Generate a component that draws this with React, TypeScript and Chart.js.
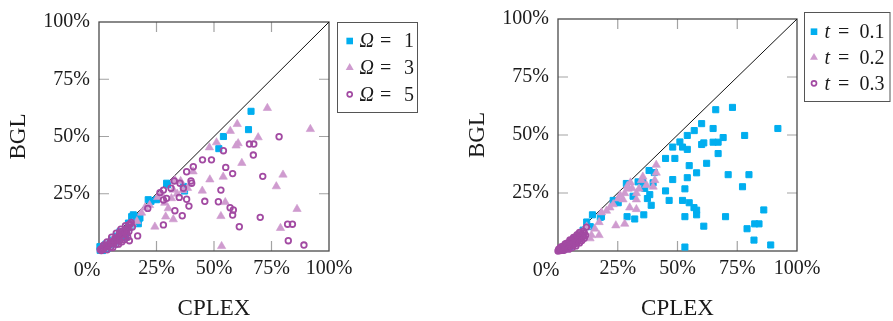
import React, { useEffect, useRef } from 'react';
import { Chart, registerables } from 'chart.js';

Chart.register(...registerables);

// ---------- DATA ----------
const tickValues = [0, 25, 50, 75, 100];
const tickLabels = ['0%', '25%', '50%', '75%', '100%'];
const xTitle = 'CPLEX';
const yTitle = 'BGL';
const diagonal = [[0, 0], [100, 100]];

const leftSeriesNames = ['Ω = 1', 'Ω = 3', 'Ω = 5'];
const rightSeriesNames = ['t = 0.1', 't = 0.2', 't = 0.3'];

const omega1Points = [
  [66.1, 61.0], [65.0, 53.0], [54.1, 50.0], [52.1, 44.7], [37.2, 26.2], [36.7, 28.2],
  [29.8, 28.9], [29.4, 29.6], [25.0, 22.4], [22.6, 21.7], [21.4, 22.4], [17.1, 15.0],
  [14.9, 15.8], [17.8, 14.4], [17.1, 11.9], [16.4, 12.2], [14.2, 15.0], [12.8, 12.2],
  [12.0, 9.2], [9.1, 8.4], [7.5, 6.5], [5.5, 4.8], [4.1, 2.6], [3.0, 3.0], [2.0, 1.5],
  [1.0, 1.0], [0.4, 1.9], [0.5, 0.3], [1.5, 0.2], [3.5, 1.0], [6.5, 3.0], [8.0, 4.5],
  [10.5, 7.0], [11.5, 6.0], [13.5, 10.5],
];
const omega3Points = [
  [73.2, 62.4], [91.9, 53.2], [60.1, 55.4], [57.1, 52.4], [51.1, 47.4], [48.0, 45.2],
  [60.5, 47.0], [59.6, 46.0], [69.2, 49.6], [62.1, 38.4], [54.0, 32.4], [48.2, 31.2],
  [44.9, 26.3], [40.9, 34.7], [80.0, 33.3], [77.1, 28.2], [86.1, 18.3], [78.9, 10.0],
  [53.3, 2.1], [53.0, 15.2], [54.9, 21.3], [24.3, 10.6], [29.0, 15.0], [32.3, 13.8],
  [30.1, 18.6], [28.6, 21.0], [31.5, 23.0], [34.0, 25.0], [32.3, 26.7], [36.5, 26.5],
  [38.5, 27.5], [33.0, 31.0], [35.5, 30.5], [27.0, 25.0], [25.5, 23.5], [22.0, 20.0],
  [20.0, 19.0], [18.5, 16.7], [16.5, 13.0], [14.5, 12.0], [13.0, 11.0], [11.5, 9.0],
  [10.0, 8.0], [8.0, 6.5], [6.0, 5.0], [4.5, 3.5], [3.0, 2.5], [2.0, 1.2],
];
const omega5Points = [
  [78.3, 49.9], [65.4, 46.7], [67.3, 46.7], [54.1, 43.8], [67.1, 41.9], [45.0, 39.8],
  [48.9, 39.8], [55.1, 36.5], [58.1, 33.8], [71.2, 32.6], [53.0, 26.6], [51.9, 21.5],
  [46.0, 21.7], [57.0, 18.9], [58.4, 17.9], [58.1, 15.7], [70.1, 14.7], [61.0, 10.6],
  [82.0, 11.7], [84.1, 11.7], [82.3, 4.5], [89.1, 2.6], [41.0, 36.8], [40.3, 29.6],
  [40.0, 30.6], [38.1, 34.6], [36.7, 27.4], [35.2, 29.6], [32.7, 30.6], [31.3, 27.4],
  [28.0, 26.6], [26.5, 25.5], [29.4, 23.0], [28.0, 22.3], [34.9, 23.4], [38.1, 22.6],
  [39.1, 19.6], [33.0, 17.6], [36.2, 15.4], [28.0, 11.4], [21.2, 18.6], [16.8, 6.6],
  [13.2, 4.5], [14.0, 12.5], [13.0, 11.5], [12.5, 10.0], [11.5, 9.5], [11.0, 8.0],
  [10.0, 8.5], [9.5, 7.0], [8.5, 6.5], [8.0, 5.5], [7.0, 5.5], [6.5, 4.5], [6.0, 3.5],
  [5.0, 4.0], [4.5, 3.0], [4.0, 2.0], [3.0, 2.5], [2.5, 1.5], [2.0, 1.0], [1.5, 0.5],
  [1.0, 1.0], [10.5, 6.0], [12.0, 7.5], [9.0, 4.5], [7.5, 3.0], [11.0, 5.0],
  [3.5, 4.0], [5.5, 6.0], [7.5, 7.8], [9.5, 9.5], [11.5, 11.0], [13.5, 11.8],
  [2.0, 2.5], [6.0, 1.5], [8.5, 3.0], [10.0, 4.0], [12.5, 6.0], [12.0, 9.0],
  [13.0, 8.5], [14.5, 10.5], [9.0, 8.0], [7.0, 4.0], [5.0, 1.5], [3.5, 0.5],
  [1.0, 0.2], [0.5, 0.5],
];

const t01Points = [
  [73.0, 61.9], [66.0, 60.9], [92.0, 52.8], [60.1, 54.9], [57.0, 51.9], [64.9, 52.8],
  [54.1, 49.8], [69.1, 48.9], [78.1, 49.8], [51.0, 47.0], [52.1, 44.8], [54.1, 43.8],
  [48.0, 44.8], [60.1, 45.9], [61.0, 46.6], [64.9, 46.9], [67.0, 46.9], [67.0, 42.0],
  [45.0, 39.9], [48.9, 39.9], [62.2, 37.8], [54.9, 36.8], [58.0, 33.7], [54.1, 31.6],
  [48.0, 30.8], [71.2, 32.9], [79.9, 32.9], [77.2, 27.7], [53.1, 26.8], [45.0, 25.9],
  [46.5, 21.8], [52.1, 21.8], [54.9, 20.8], [56.9, 18.7], [58.0, 17.6], [58.0, 15.6],
  [53.1, 14.8], [70.1, 14.8], [86.1, 17.7], [79.1, 9.6], [82.3, 11.7], [84.1, 11.7],
  [61.0, 10.7], [82.0, 4.7], [89.0, 2.6], [53.1, 1.7], [38.1, 34.7], [40.3, 33.8],
  [39.8, 29.4], [38.4, 24.3], [39.0, 19.7], [35.9, 15.6], [32.1, 13.8], [28.9, 14.8],
  [35.3, 29.8], [36.3, 27.0], [37.4, 22.6], [23.1, 21.8], [25.2, 20.8], [28.6, 29.1],
  [33.5, 29.8], [31.4, 23.6], [18.2, 14.8], [14.4, 15.6], [17.7, 14.5], [12.0, 12.5],
  [10.5, 9.0], [9.0, 6.0], [7.0, 3.5], [5.0, 2.0], [3.0, 1.0], [1.5, 0.5], [13.5, 10.5],
];
const t02Points = [
  [41.1, 37.1], [41.1, 33.7], [40.5, 30.5], [39.8, 27.7], [37.0, 28.4], [34.9, 30.5],
  [33.9, 26.8], [32.8, 24.9], [32.8, 22.2], [30.3, 29.5], [29.3, 26.8], [27.9, 24.9],
  [27.2, 22.2], [25.2, 22.6], [23.1, 20.1], [21.7, 18.7], [20.3, 17.3], [18.2, 16.6],
  [27.9, 11.7], [24.2, 11.0], [30.0, 18.7], [32.8, 18.0], [17.2, 12.4], [15.4, 9.6],
  [14.0, 6.8], [17.2, 6.8], [13.4, 5.4], [12.0, 10.5], [10.5, 8.5], [9.0, 7.0],
  [8.0, 5.5], [6.5, 4.5], [5.0, 3.5], [3.5, 2.5], [2.0, 1.5], [26.0, 24.0], [29.0, 28.0],
  [31.0, 27.0], [35.5, 32.0],
];
const t03Points = [
  [0.5, 0.3], [1.0, 0.8], [1.5, 0.5], [2.0, 1.5], [2.5, 1.0], [3.0, 2.0], [3.5, 1.5],
  [4.0, 2.8], [4.5, 2.0], [5.0, 3.5], [5.5, 2.8], [6.0, 4.2], [6.5, 3.5], [7.0, 5.0],
  [7.5, 4.0], [8.0, 5.8], [8.5, 4.8], [9.0, 6.5], [9.5, 5.5], [10.0, 7.2], [10.5, 6.2],
  [11.0, 7.8], [11.9, 10.3], [1.0, 0.2], [2.0, 0.4], [3.0, 1.0], [4.0, 1.2], [5.0, 2.2],
  [6.0, 2.5], [7.0, 3.0], [8.0, 3.5], [2.5, 2.2], [4.0, 3.5], [5.5, 4.5], [7.0, 6.0],
  [3.0, 3.0], [1.5, 1.8], [3.5, 3.2], [5.0, 4.8], [6.5, 5.8], [8.0, 7.0], [9.0, 8.0],
  [2.5, 0.3], [4.5, 0.8], [6.0, 1.5], [7.5, 2.2], [9.0, 3.5], [10.0, 4.5], [11.0, 5.5],
  [11.5, 6.8], [10.5, 8.5], [0.3, 0.8], [0.0, 0.0], [1.0, 1.5],
];

// ---------- STYLE ----------
const CYAN = '#00AEEF';
const LAVENDER = '#CF9BCF';
const PURPLE = '#A24AA2';
const FONT = "'Liberation Serif', 'Times New Roman', serif";
const TEXT = '#1a1a1a';
const CANVAS_H = 321;
const TICK_FONT = 20;

const toXY = (arr: number[][]) => arr.map(([x, y]) => ({ x, y }));

const markerKinds = ['rect', 'triangle', 'circle'];
const markerColors = [CYAN, LAVENDER, PURPLE];

function drawMarker(ctx: CanvasRenderingContext2D, kind: string, x: number, y: number, color: string) {
  ctx.save();
  if (kind === 'rect') {
    ctx.fillStyle = color;
    ctx.fillRect(x - 3.3, y - 3.3, 6.6, 6.6);
  } else if (kind === 'triangle') {
    const r = 4.6;
    ctx.fillStyle = color;
    ctx.beginPath();
    ctx.moveTo(x, y - r);
    ctx.lineTo(x + r * 0.866, y + r * 0.5);
    ctx.lineTo(x - r * 0.866, y + r * 0.5);
    ctx.closePath();
    ctx.fill();
  } else {
    ctx.strokeStyle = color;
    ctx.lineWidth = 1.7;
    ctx.beginPath();
    ctx.arc(x, y, 2.5, 0, Math.PI * 2);
    ctx.stroke();
  }
  ctx.restore();
}

const framePlugin = {
  id: 'frameTicks',
  beforeDatasetsDraw(chart: any) {
    const { ctx, chartArea } = chart;
    const { left, right, top, bottom } = chartArea;
    const xs = chart.scales.x;
    const ys = chart.scales.y;
    const TL = 10;
    ctx.save();
    ctx.strokeStyle = '#a3a3a3';
    ctx.lineWidth = 1.2;
    ctx.beginPath();
    tickValues.forEach((v) => {
      if (v === 0 || v === 100) return;
      const px = xs.getPixelForValue(v);
      const py = ys.getPixelForValue(v);
      ctx.moveTo(px, bottom);
      ctx.lineTo(px, bottom - TL);
      ctx.moveTo(px, top);
      ctx.lineTo(px, top + TL);
      ctx.moveTo(left, py);
      ctx.lineTo(left + TL, py);
      ctx.moveTo(right, py);
      ctx.lineTo(right - TL, py);
    });
    ctx.stroke();
    ctx.strokeStyle = '#4a4a4a';
    ctx.lineWidth = 1.3;
    ctx.strokeRect(left, top, right - left, bottom - top);
    // shared corner label "0%"
    ctx.fillStyle = TEXT;
    ctx.font = `${TICK_FONT}px ${FONT}`;
    ctx.textAlign = 'right';
    ctx.textBaseline = 'middle';
    ctx.fillText(tickLabels[0], xs.getPixelForValue(0) + 1.5, bottom + 20);
    ctx.restore();
  },
};

const legendPlugin = {
  id: 'legendBox',
  afterDraw(chart: any, _args: any, opts: any) {
    if (!opts || !opts.names) return;
    const { ctx } = chart;
    const [x1, y1, x2, y2] = opts.box;
    ctx.save();
    ctx.fillStyle = '#ffffff';
    ctx.fillRect(x1, y1, x2 - x1, y2 - y1);
    ctx.strokeStyle = '#555555';
    ctx.lineWidth = 1;
    ctx.strokeRect(x1, y1, x2 - x1, y2 - y1);
    opts.names.forEach((name: string, i: number) => {
      const y = opts.rows[i];
      drawMarker(ctx, markerKinds[i], opts.markerX, y, markerColors[i]);
      const [sym, val] = name.split(' = ');
      ctx.fillStyle = TEXT;
      ctx.textBaseline = 'middle';
      ctx.textAlign = 'left';
      ctx.font = `italic 20px ${FONT}`;
      ctx.fillText(sym, opts.symX, y + 1);
      ctx.font = `20px ${FONT}`;
      ctx.fillText('=', opts.eqX, y + 1);
      ctx.fillText(val, opts.valX, y + 1);
    });
    ctx.restore();
  },
};

function buildConfig(p: any) {
  const series = p.series;
  const datasets: any[] = series.map((pts: number[][], i: number) => ({
    type: 'scatter',
    label: p.names[i],
    data: toXY(pts),
    pointStyle: markerKinds[i],
    pointRadius: i === 0 ? 4.3 : i === 1 ? 4.8 : 2.8,
    pointBorderWidth: i === 0 ? 1 : i === 1 ? 0.6 : 1.8,
    pointBackgroundColor: i === 2 ? 'rgba(0,0,0,0)' : markerColors[i],
    pointBorderColor: markerColors[i],
    order: 3 - i,
    clip: false,
  }));
  datasets.push({
    type: 'line',
    label: 'diagonal',
    data: toXY(diagonal),
    borderColor: '#111111',
    borderWidth: 1,
    pointRadius: 0,
    fill: false,
    order: 10,
    clip: false,
  });
  const tickCb = (v: any) => {
    const i = tickValues.indexOf(Number(v));
    return i <= 0 ? '' : tickLabels[i];
  };
  const setTicks = (s: any) => {
    s.ticks = tickValues.map((v) => ({ value: v }));
  };
  return {
    data: { datasets },
    plugins: [framePlugin, legendPlugin],
    options: {
      responsive: false,
      animation: false,
      devicePixelRatio: 1,
      events: [],
      layout: { padding: { left: 0, top: p.area.top, right: p.w - p.area.right, bottom: 0 } },
      scales: {
        x: {
          type: 'linear',
          min: 0,
          max: 100,
          afterBuildTicks: setTicks,
          afterFit: (s: any) => { s.height = CANVAS_H - p.area.bottom; },
          grid: { display: false, drawTicks: false },
          border: { display: false },
          ticks: {
            callback: tickCb,
            autoSkip: false,
            maxRotation: 0,
            padding: 8,
            color: TEXT,
            font: { family: FONT, size: TICK_FONT, lineHeight: 1 },
          },
          title: {
            display: true,
            text: xTitle,
            color: TEXT,
            font: { family: FONT, size: 23, lineHeight: 1 },
            padding: { top: 0, bottom: 0.5 },
          },
        },
        y: {
          type: 'linear',
          min: 0,
          max: 100,
          afterBuildTicks: setTicks,
          afterFit: (s: any) => { s.width = p.area.left; },
          grid: { display: false, drawTicks: false },
          border: { display: false },
          ticks: {
            callback: tickCb,
            autoSkip: false,
            padding: 9,
            color: TEXT,
            font: { family: FONT, size: TICK_FONT, lineHeight: 1 },
          },
          title: {
            display: true,
            text: yTitle,
            color: TEXT,
            font: { family: FONT, size: 23, lineHeight: 1 },
            padding: { top: p.yTitleX - 11.5, bottom: 0 },
          },
        },
      },
      plugins: {
        legend: { display: false },
        tooltip: { enabled: false },
        legendBox: p.legend,
      },
    },
  };
}

const leftPanel = {
  offsetX: 0,
  w: 446,
  area: { left: 99, right: 329, top: 22, bottom: 251 },
  yTitleX: 18.5,
  names: leftSeriesNames,
  series: [omega1Points, omega3Points, omega5Points],
  legend: {
    names: leftSeriesNames,
    box: [337.5, 22.5, 417.5, 112.5],
    rows: [41, 67.7, 94.3],
    markerX: 349.7,
    symX: 359.5,
    eqX: 380,
    valX: 404,
  },
};

const rightPanel = {
  offsetX: 446,
  w: 447,
  area: { left: 112, right: 351, top: 12, bottom: 251 },
  yTitleX: 32,
  names: rightSeriesNames,
  series: [t01Points, t02Points, t03Points],
  legend: {
    names: rightSeriesNames,
    box: [358.5, 12.5, 444, 101.5],
    rows: [31.7, 57.5, 83.3],
    markerX: 368,
    symX: 378.5,
    eqX: 392,
    valX: 413.5,
  },
};

function Panel({ p }: { p: any }) {
  const ref = useRef<HTMLCanvasElement | null>(null);
  useEffect(() => {
    if (!ref.current) return;
    const chart = new Chart(ref.current, buildConfig(p) as any);
    return () => chart.destroy();
  }, []);
  return (
    <canvas
      ref={ref}
      width={p.w}
      height={CANVAS_H}
      style={{ position: 'absolute', left: p.offsetX, top: 0, width: p.w, height: CANVAS_H }}
    />
  );
}

export default function App() {
  return (
    <div style={{ position: 'absolute', left: 0, top: 0, width: 893, height: 321, background: '#ffffff' }}>
      <Panel p={leftPanel} />
      <Panel p={rightPanel} />
    </div>
  );
}
